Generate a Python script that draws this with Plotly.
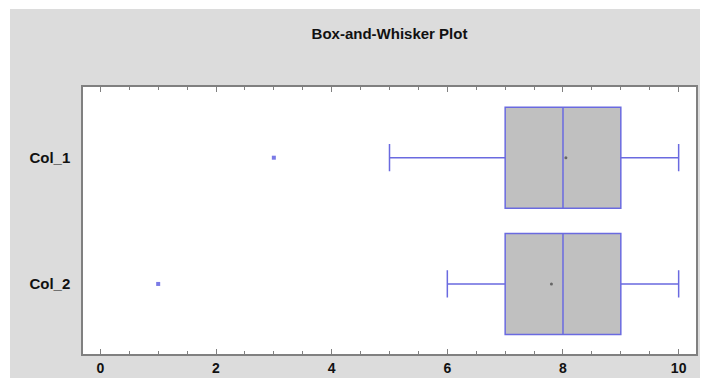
import plotly.graph_objects as go

categories = ["Col_1", "Col_2"]
q1 = [7, 7]
median = [8, 8]
q3 = [9, 9]
lower_whisker = [5, 6]
upper_whisker = [10, 10]
means = [8.05, 7.8]
outlier_values = [3, 1]
outlier_categories = ["Col_1", "Col_2"]

BLUE = "#6a6ae0"
FONT = "Arial, Liberation Sans, sans-serif"

W, H = 700, 370
L, R, T, B = 75, 12, 79, 24

fig = go.Figure()
fig.add_trace(go.Box(
    y=categories, q1=q1, median=median, q3=q3,
    lowerfence=lower_whisker, upperfence=upper_whisker,
    orientation="h", boxpoints=False,
    fillcolor="#c0c0c0", line=dict(color=BLUE, width=1.5),
    whiskerwidth=0.27, width=0.8, showlegend=False, hoverinfo="skip",
))
fig.add_trace(go.Scatter(
    x=means, y=categories, mode="markers",
    marker=dict(symbol="circle", size=3, color="#666666"),
    showlegend=False, hoverinfo="skip",
))
fig.add_trace(go.Scatter(
    x=outlier_values, y=outlier_categories, mode="markers",
    marker=dict(symbol="square", size=4, color="#7a7ae6"),
    showlegend=False, hoverinfo="skip",
))

pw = W - L - R
ph = H - T - B
fig.update_layout(
    width=W, height=H,
    margin=dict(l=L, r=R, t=T, b=B, autoexpand=False),
    paper_bgcolor="#dcdcdc", plot_bgcolor="white",
    title=dict(text="Box-and-Whisker Plot", x=0.5, xref="paper", xanchor="center",
               y=1 - 26 / H, yanchor="middle",
               font=dict(family=FONT, size=15, color="#111111", weight="bold")),
    shapes=[
        dict(type="rect", xref="paper", yref="paper",
             x0=-L / pw - 0.01, x1=(2 - L) / pw, y0=-B / ph - 0.05, y1=(ph + T) / ph + 0.05,
             fillcolor="white", line=dict(width=0), layer="above"),
        dict(type="rect", xref="paper", yref="paper",
             x0=-L / pw - 0.01, x1=1.1, y0=(ph + T - 1) / ph, y1=(ph + T) / ph + 0.05,
             fillcolor="white", line=dict(width=0), layer="above"),
    ],
    xaxis=dict(range=[-0.3, 10.3], dtick=2, tick0=0, showgrid=False, zeroline=False,
               automargin=False,
               showline=True, linecolor="#808080", linewidth=1.5, mirror="allticks",
               ticks="inside", ticklen=5, tickcolor="#808080", tickwidth=1,
               minor=dict(dtick=0.5, ticks="inside", ticklen=3, tickcolor="#808080"),
               tickfont=dict(family=FONT, size=14, color="#111111", weight="bold"),
               ticklabelstandoff=0),
    yaxis=dict(range=[1.555, -0.56], type="category", showgrid=False, zeroline=False,
               automargin=False,
               showline=True, linecolor="#808080", linewidth=1.5, mirror=True,
               ticks="", tickfont=dict(family=FONT, size=15, color="#111111", weight="bold"),
               ticklabelstandoff=8),
)

fig.write_html("out.html")
